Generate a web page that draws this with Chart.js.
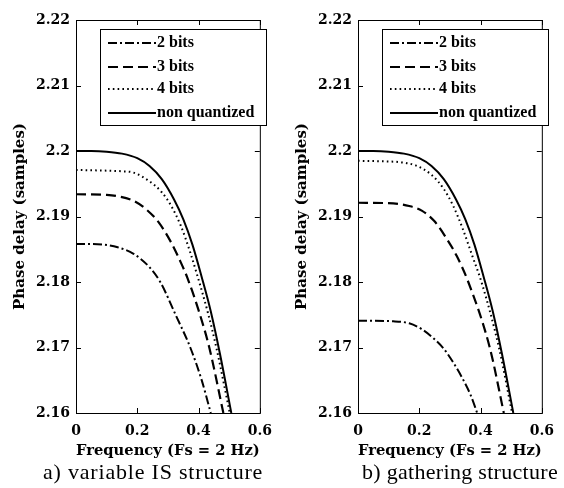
<!DOCTYPE html>
<html>
<head>
<meta charset="utf-8">
<script src="https://cdn.jsdelivr.net/npm/chart.js@4.4.1/dist/chart.umd.min.js"></script>
<style>
  body { margin: 0; background: #fff; }
  #wrap { position: relative; width: 564px; height: 488px; }
  canvas { position: absolute; top: 0; }
  .cap { position: absolute; top: 461px; font-family: "Liberation Serif", serif; font-size: 22px; line-height: 22px; letter-spacing: 0.8px; color: #000; white-space: nowrap; }
</style>
</head>
<body>
<div id="wrap">
  <canvas id="chartA" width="282" height="460" style="left:0"></canvas>
  <canvas id="chartB" width="282" height="460" style="left:282px"></canvas>
  <div class="cap" style="left:43px">a) variable IS structure</div>
  <div class="cap" style="left:362px; letter-spacing:0.3px">b) gathering structure</div>
</div>
<script>
// axis ticks
const xTicks = [0, 0.2, 0.4, 0.6];
const yTicks = [2.16, 2.17, 2.18, 2.19, 2.2, 2.21, 2.22];
const seriesNames = ['2 bits', '3 bits', '4 bits', 'non quantized'];

// a) variable IS structure
const freqA2 = [0, 0.05, 0.093, 0.136, 0.188, 0.239, 0.275, 0.327, 0.373, 0.409, 0.44];
const delayA2 = [2.1858, 2.1858, 2.1857, 2.1853, 2.1843, 2.1823, 2.18, 2.1748, 2.17, 2.1652, 2.16];
const freqA3 = [0, 0.1, 0.136, 0.188, 0.229, 0.27, 0.311, 0.342, 0.363, 0.4, 0.435, 0.481];
const delayA3 = [2.1934, 2.1933, 2.1931, 2.1924, 2.1911, 2.1891, 2.186, 2.183, 2.1807, 2.1757, 2.17, 2.16];
const freqA4 = [0, 0.1, 0.15, 0.188, 0.239, 0.28, 0.311, 0.342, 0.373, 0.394, 0.43, 0.458, 0.502];
const delayA4 = [2.1971, 2.197, 2.1969, 2.1967, 2.1954, 2.1937, 2.1916, 2.1886, 2.1845, 2.1813, 2.1754, 2.17, 2.16];
const freqAn = [0, 0.05, 0.1, 0.15, 0.2, 0.24, 0.28, 0.32, 0.35, 0.38, 0.41, 0.44, 0.47, 0.507];
const delayAn = [2.2, 2.2, 2.1999, 2.1996, 2.1989, 2.1977, 2.1957, 2.1926, 2.1896, 2.1857, 2.1808, 2.1755, 2.169, 2.16];

// b) gathering structure
const freqB2 = [0, 0.115, 0.167, 0.208, 0.249, 0.28, 0.311, 0.342, 0.368, 0.389];
const delayB2 = [2.1741, 2.174, 2.1737, 2.1728, 2.1713, 2.1698, 2.1677, 2.1652, 2.1627, 2.16];
const freqB3 = [0, 0.115, 0.167, 0.208, 0.249, 0.291, 0.322, 0.36, 0.43, 0.476];
const delayB3 = [2.1921, 2.192, 2.1916, 2.1909, 2.1893, 2.1865, 2.184, 2.18, 2.17, 2.16];
const freqB4 = [0, 0.1, 0.136, 0.188, 0.239, 0.28, 0.311, 0.342, 0.373, 0.405, 0.46, 0.503];
const delayB4 = [2.1985, 2.1984, 2.1983, 2.1978, 2.1964, 2.1942, 2.1916, 2.1881, 2.184, 2.1797, 2.17, 2.16];
const freqBn = [0, 0.05, 0.1, 0.15, 0.2, 0.24, 0.28, 0.32, 0.35, 0.38, 0.41, 0.44, 0.47, 0.507];
const delayBn = [2.2, 2.2, 2.1999, 2.1996, 2.1989, 2.1977, 2.1957, 2.1926, 2.1896, 2.1857, 2.1808, 2.1755, 2.169, 2.16];

const dashes = [[9, 3, 2, 3], [10, 5], [1.6, 3.2], []];
const widths = [2, 2.2, 2, 2];
const tickFont = { family: 'DejaVu Serif', size: 14, weight: 'bold' };
const titleFont = { family: 'DejaVu Serif', size: 15, weight: 'bold' };

function pts(xs, ys) {
  return xs.map((x, i) => ({ x: x, y: ys[i] }));
}

// box + inward ticks like matlab
const boxPlugin = {
  id: 'box',
  afterDatasetsDraw(chart) {
    const { ctx, chartArea: a, scales } = chart;
    ctx.save();
    ctx.strokeStyle = '#000';
    ctx.lineWidth = 1;
    ctx.strokeRect(a.left + 0.5, a.top + 0.5, a.right - a.left, a.bottom - a.top);
    ctx.beginPath();
    xTicks.forEach(v => {
      const px = Math.round(scales.x.getPixelForValue(v)) + 0.5;
      ctx.moveTo(px, a.bottom); ctx.lineTo(px, a.bottom - 5);
      ctx.moveTo(px, a.top); ctx.lineTo(px, a.top + 5);
    });
    yTicks.forEach(v => {
      const py = Math.round(scales.y.getPixelForValue(v)) + 0.5;
      ctx.moveTo(a.left, py); ctx.lineTo(a.left + 5, py);
      ctx.moveTo(a.right, py); ctx.lineTo(a.right - 5, py);
    });
    ctx.stroke();

    // legend box
    const bx = a.left + 24, by = a.top + 9, bw = 166, bh = 96;
    ctx.fillStyle = '#fff';
    ctx.fillRect(bx, by, bw, bh);
    ctx.strokeRect(bx + 0.5, by + 0.5, bw, bh);
    ctx.font = 'bold 16px "Liberation Serif"';
    ctx.textBaseline = 'middle';
    ctx.fillStyle = '#000';
    const rows = [14, 38, 60, 84];
    chart.data.datasets.forEach((ds, i) => {
      const y = by + rows[i];
      ctx.lineWidth = ds.borderWidth;
      ctx.setLineDash(ds.borderDash);
      ctx.beginPath();
      ctx.moveTo(bx + 8, y);
      ctx.lineTo(bx + 56, y);
      ctx.stroke();
      ctx.setLineDash([]);
      ctx.fillText(ds.label, bx + 57, y);
    });
    ctx.restore();
  }
};

function makeChart(id, series) {
  const ctx = document.getElementById(id).getContext('2d');
  const datasets = series.map((s, i) => ({
    label: seriesNames[i],
    data: pts(s[0], s[1]),
    borderColor: '#000',
    borderWidth: widths[i],
    borderDash: dashes[i],
    pointRadius: 0,
    fill: false,
    cubicInterpolationMode: 'monotone'
  }));
  return new Chart(ctx, {
    type: 'line',
    data: { datasets: datasets },
    plugins: [boxPlugin],
    options: {
      responsive: false,
      animation: false,
      devicePixelRatio: 1,
      layout: { autoPadding: false, padding: { left: 0, right: 12, top: 20, bottom: 0 } },
      plugins: { legend: { display: false }, tooltip: { enabled: false } },
      scales: {
        x: {
          type: 'linear',
          min: 0, max: 0.6,
          afterBuildTicks: s => { s.ticks = xTicks.map(v => ({ value: v })); },
          afterFit: s => { s.height = 47; },
          grid: { display: false, drawTicks: false },
          border: { display: false },
          ticks: {
            color: '#000', font: tickFont, padding: 10, maxRotation: 0,
            callback: v => String(Number(v.toFixed(2)))
          },
          title: {
            display: true, text: 'Frequency (Fs = 2 Hz)', color: '#000',
            font: titleFont, padding: { top: 0, bottom: 0 }
          }
        },
        y: {
          min: 2.16, max: 2.22,
          afterBuildTicks: s => { s.ticks = yTicks.map(v => ({ value: v })); },
          afterFit: s => { s.width = 76; },
          grid: { display: false, drawTicks: false },
          border: { display: false },
          ticks: {
            color: '#000', font: tickFont, padding: 6,
            callback: v => String(Number(v.toFixed(2)))
          },
          title: {
            display: true, text: 'Phase delay (samples)', color: '#000',
            font: titleFont, padding: { top: 11, bottom: 0 }
          }
        }
      }
    }
  });
}

makeChart('chartA', [[freqA2, delayA2], [freqA3, delayA3], [freqA4, delayA4], [freqAn, delayAn]]);
makeChart('chartB', [[freqB2, delayB2], [freqB3, delayB3], [freqB4, delayB4], [freqBn, delayBn]]);
</script>
</body>
</html>
